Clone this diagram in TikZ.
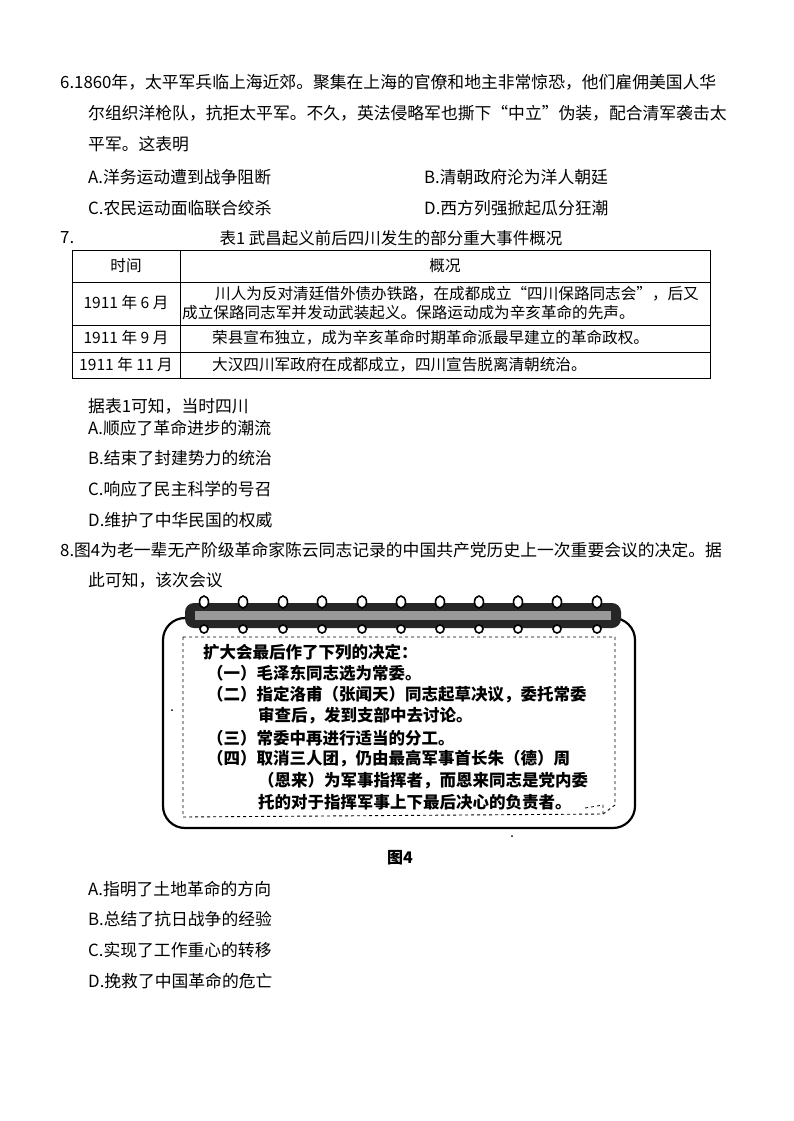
\documentclass[tikz,border=0pt]{standalone}
\usepackage{fontspec}
\setmainfont{Noto Sans CJK SC}
\begin{document}
\begin{tikzpicture}[x=1pt,y=-1pt,
  t/.style={anchor=west,inner sep=0,font=\fontsize{16.8}{18}\selectfont},
  s/.style={anchor=west,inner sep=0,font=\fontsize{15.6}{17}\selectfont},
  n/.style={anchor=west,inner sep=0,font=\fontsize{16.5}{18}\selectfont\bfseries}]
\useasboundingbox (0,0) rectangle (793,1121);
\fill[white] (0,0) rectangle (793,1121);
% Q6
\node[t] (q6a) at (60,82) {6.1860年，太平军兵临上海近郊。聚集在上海的官僚和地主非常惊恐，他们雇佣美国人华};
\node[t] (q6b) at (88,113) {尔组织洋枪队，抗拒太平军。不久，英法侵略军也撕下“中立”伪装，配合清军袭击太};
\node[t] (q6c) at (88,144) {平军。这表明};
\node[t] (q6A) at (88,177) {A.洋务运动遭到战争阻断};
\node[t] (q6B) at (424,177) {B.清朝政府沦为洋人朝廷};
\node[t] (q6C) at (88,208) {C.农民运动面临联合绞杀};
\node[t] (q6D) at (424,208) {D.西方列强掀起瓜分狂潮};
% Q7
\node[t] (q7) at (60,238) {7.};
\node[anchor=center,inner sep=0,font=\fontsize{16.5}{18}\selectfont] (cap) at (391,238) {表1\ 武昌起义前后四川发生的部分重大事件概况};
\draw[line width=0.6pt] (72,250) rectangle (710,378);
\draw[line width=0.6pt] (72,282) -- (710,282) (72,325) -- (710,325) (72,352) -- (710,352) (180,250) -- (180,378);
\node[s,anchor=center] (h1) at (126,266) {时间};
\node[s,anchor=center] (h2) at (445,266) {概况};
\node[s,anchor=center] (d1) at (126,303) {1911 年 6 月};
\node[s] (r1a) at (215,294) {川人为反对清廷借外债办铁路，在成都成立“四川保路同志会”，后又};
\node[s] (r1b) at (182,313) {成立保路同志军并发动武装起义。保路运动成为辛亥革命的先声。};
\node[s,anchor=center] (d2) at (126,338) {1911 年 9 月};
\node[s] (r2) at (212,338) {荣县宣布独立，成为辛亥革命时期革命派最早建立的革命政权。};
\node[s,anchor=center] (d3) at (126,365) {1911 年 11 月};
\node[s] (r3) at (212,365) {大汉四川军政府在成都成立，四川宣告脱离清朝统治。};
\node[t] (q7s) at (88,406) {据表1可知，当时四川};
\node[t] (q7A) at (88,428) {A.顺应了革命进步的潮流};
\node[t] (q7B) at (88,458) {B.结束了封建势力的统治};
\node[t] (q7C) at (88,489) {C.响应了民主科学的号召};
\node[t] (q7D) at (88,520) {D.维护了中华民国的权威};
% Q8
\node[t] (q8a) at (60,550) {8.图4为老一辈无产阶级革命家陈云同志记录的中国共产党历史上一次重要会议的决定。据};
\node[t] (q8b) at (88,580) {此可知，该次会议};
% notebook
\draw[line width=2.2pt,rounded corners=22pt] (163,618) rectangle (635,828);
\fill[black!85,rounded corners=9pt] (185,603) rectangle (621,628);
\fill[black!40] (195,611) rectangle (611,620);
\foreach \x in {204,243,283,322,362,401,440,479,518,557,597}{
  \draw[line width=1.6pt,fill=white] (\x,602) ellipse (4.5 and 6);
  \draw[line width=1.6pt,fill=white] (\x,629) ellipse (4 and 4);
}
\draw[dashed,line width=0.9pt] (183,637) -- (615,637) -- (615,805) -- (603,814) -- (183,817) -- cycle;
\draw[dashed,line width=0.8pt] (585,808) -- (603,805) -- (603,814);
\node[n] (b0) at (203,652) {扩大会最后作了下列的决定：};
\node[n] (b1) at (207,673) {（一）毛泽东同志选为常委。};
\node[n] (b2) at (207,695) {（二）指定洛甫（张闻天）同志起草决议，委托常委};
\node[n] (b3) at (258,716) {审查后，发到支部中去讨论。};
\node[n] (b4) at (207,738) {（三）常委中再进行适当的分工。};
\node[n] (b5) at (207,759) {（四）取消三人团，仍由最高军事首长朱（德）周};
\node[n] (b6) at (258,781) {（恩来）为军事指挥者，而恩来同志是党内委};
\node[n] (b7) at (258,802) {托的对于指挥军事上下最后决心的负责者。};
\fill (172,710) circle (1);
\fill (512,836) circle (1);
\node[anchor=center,inner sep=0,font=\fontsize{16}{18}\selectfont\bfseries] (fig) at (400,858) {图4};
\node[t] (q8A) at (88,889) {A.指明了土地革命的方向};
\node[t] (q8B) at (88,919) {B.总结了抗日战争的经验};
\node[t] (q8C) at (88,950) {C.实现了工作重心的转移};
\node[t] (q8D) at (88,981) {D.挽救了中国革命的危亡};
\end{tikzpicture}
\end{document}
